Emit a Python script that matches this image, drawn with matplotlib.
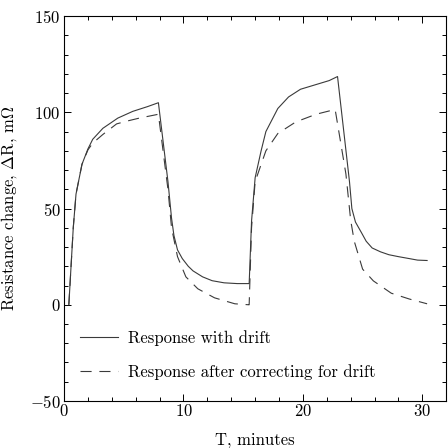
import numpy as np
import matplotlib
matplotlib.use("Agg")
import matplotlib.pyplot as plt
from matplotlib.ticker import MultipleLocator

plt.rcParams["font.family"] = "serif"
plt.rcParams["font.serif"] = ["cmr10"]
plt.rcParams["mathtext.fontset"] = "cm"
plt.rcParams["axes.unicode_minus"] = False
plt.rcParams["axes.formatter.use_mathtext"] = True

# response with drift (minutes, mOhm)
t_drift = [0.4, 0.77, 1.0, 1.5, 2.0, 2.4, 3.25, 4.5, 5.75, 7.0, 7.9,
           8.7, 9.0, 9.2, 9.5, 9.9, 10.4, 10.8, 11.6, 12.4, 13.4, 14.5, 15.4,
           15.5, 15.7, 16.0, 16.5, 16.9, 17.9, 18.8, 19.8, 20.6, 21.4, 22.2, 22.9,
           23.9, 24.1, 24.4, 24.9, 25.3, 25.8, 26.5, 27.2, 28.0, 28.9, 29.6, 30.4]
r_drift = [0, 40, 57.5, 73, 81, 86, 91.7, 97, 100.5, 103, 105,
           64, 45, 36, 28.5, 24, 20, 17.6, 14.5, 12.5, 11.4, 11, 11,
           11, 43.5, 66, 80, 90, 102, 108, 112, 113.5, 115, 116.5, 118.6,
           64, 50, 43, 37.5, 33, 29.5, 27.5, 26, 25, 24, 23.2, 23]

# response after correcting for drift
t_corr = [0.4, 0.77, 1.0, 1.5, 2.0, 2.4, 3.25, 4.4, 5.3, 6.3, 7.9,
          8.7, 9.0, 9.5, 10.2, 11.2, 12.6, 14.3, 15.45,
          15.5, 15.7, 16.0, 16.9, 17.9, 19.4, 21.1, 22.7,
          23.6, 24.0, 24.3, 25.0, 25.9, 27.4, 28.9, 30.4]
r_corr = [0, 40, 57.5, 73, 80.5, 84, 88.5, 94, 95.5, 97, 99,
          60, 40, 25, 14.5, 8.3, 3.6, 0.5, 0,
          0, 40, 64, 80, 89, 95, 99, 101.5,
          68, 44, 33, 18.5, 12.4, 6, 3, 0.5]

fig = plt.figure(figsize=(4.48, 4.48), dpi=100)
ax = fig.add_axes([0.143, 0.105, 0.853, 0.859])

line_col = "#3a3a3a"
ax.plot(t_drift, r_drift, color=line_col, lw=0.8, label="Response with drift")
ax.plot(t_corr, r_corr, color=line_col, lw=0.8, dashes=(10, 7),
        label="Response after correcting for drift")

ax.set_xlim(0, 32)
ax.set_ylim(-50, 150)
ax.xaxis.set_major_locator(MultipleLocator(10))
ax.xaxis.set_minor_locator(MultipleLocator(2))
ax.yaxis.set_major_locator(MultipleLocator(50))
ax.yaxis.set_minor_locator(MultipleLocator(10))
ax.tick_params(which="both", direction="in", top=True, right=True,
               labelsize=12, width=0.7)
ax.tick_params(axis="x", pad=1.5)
ax.tick_params(axis="y", pad=2.5)
ax.tick_params(which="major", length=5)
ax.tick_params(which="minor", length=3)
for sp in ax.spines.values():
    sp.set_linewidth(0.8)

ax.set_xlabel("T, minutes", fontsize=12, labelpad=10)
ax.set_ylabel(r"Resistance change, $\Delta$R, m$\Omega$", fontsize=12, labelpad=8)

ax.legend(loc="center left", bbox_to_anchor=(0.042, 0.12), frameon=False,
          fontsize=12, handlelength=2.3, handletextpad=0.6, labelspacing=1.1,
          borderpad=0, borderaxespad=0)

fig.savefig("out.png", dpi=100)
